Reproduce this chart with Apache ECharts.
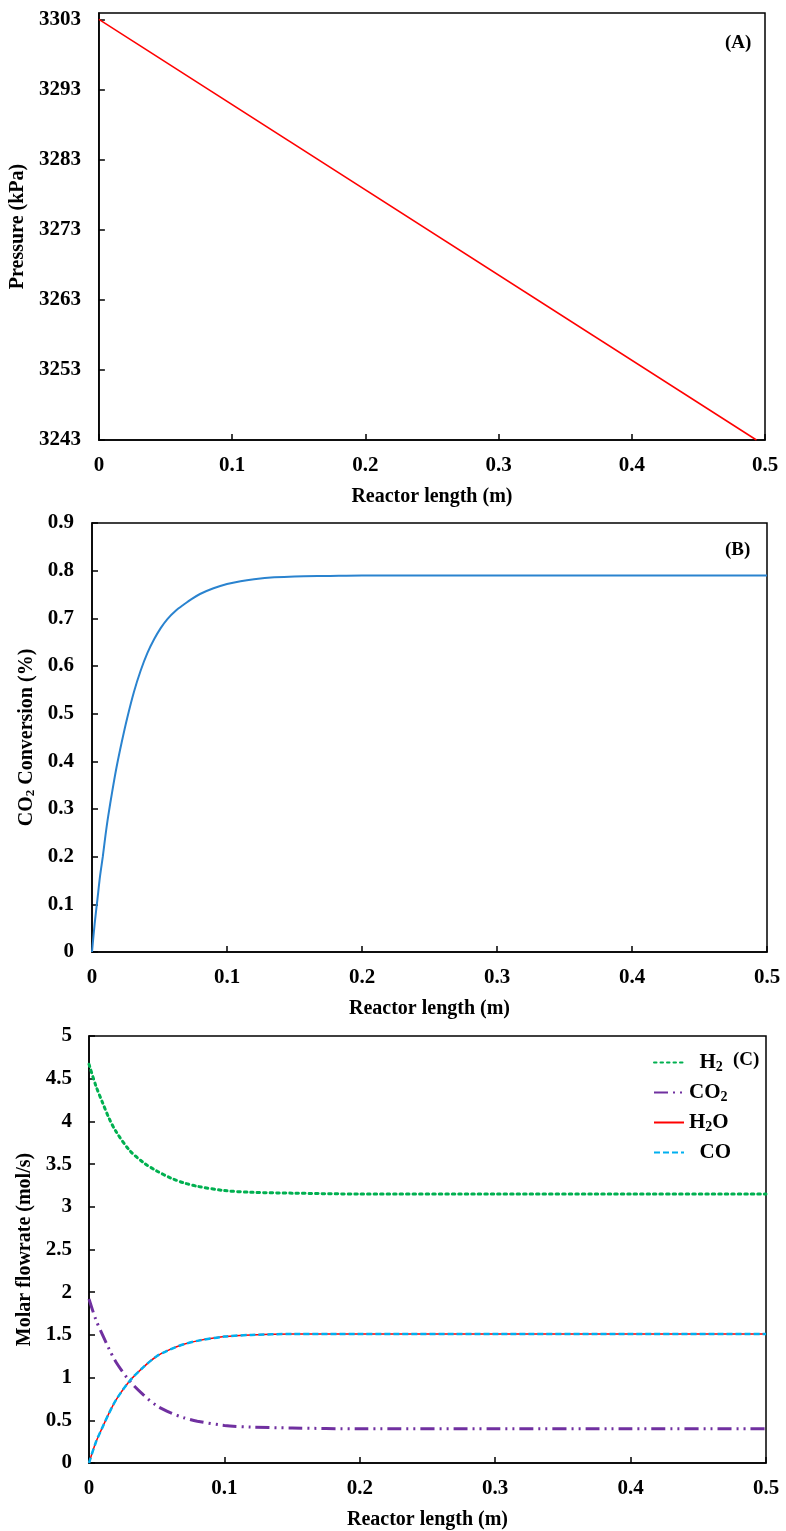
<!DOCTYPE html>
<html>
<head>
<meta charset="utf-8">
<script src="https://cdn.jsdelivr.net/npm/echarts@6/dist/echarts.min.js"></script>
<style>
  html, body { margin: 0; padding: 0; background: #fff; }
  #main { width: 786px; height: 1531px; }
</style>
</head>
<body>
<div id="main"></div>
<script>
var dom = document.getElementById("main");
var myChart = echarts.init(dom);

// (A) pressure along the reactor
var lengthA = [0, 0.4936];
var pressure = [3303, 3243];

// (B) CO2 conversion
var lengthB = [0, 0.002, 0.004, 0.006, 0.008, 0.01, 0.012, 0.015, 0.018, 0.022, 0.026, 0.031, 0.036, 0.041, 0.046, 0.051, 0.056, 0.062, 0.068, 0.074, 0.08, 0.09, 0.1, 0.11, 0.12, 0.135, 0.15, 0.175, 0.2, 0.3, 0.4, 0.5];
var conversion = [0, 0.06, 0.11, 0.16, 0.2, 0.245, 0.285, 0.337, 0.385, 0.44, 0.49, 0.545, 0.59, 0.627, 0.656, 0.68, 0.699, 0.716, 0.729, 0.741, 0.751, 0.763, 0.772, 0.778, 0.782, 0.786, 0.788, 0.789, 0.79, 0.79, 0.79, 0.79];

// (C) molar flowrates
var lengthC = [0, 0.005, 0.01, 0.015, 0.02, 0.03, 0.04, 0.05, 0.06, 0.07, 0.08, 0.1, 0.12, 0.15, 0.2, 0.3, 0.4, 0.5];
var h2  = [4.67, 4.42, 4.22, 4.03, 3.88, 3.66, 3.52, 3.42, 3.34, 3.28, 3.24, 3.19, 3.17, 3.16, 3.15, 3.15, 3.15, 3.15];
var co2 = [1.92, 1.68, 1.5, 1.33, 1.18, 0.96, 0.8, 0.67, 0.59, 0.53, 0.49, 0.44, 0.42, 0.41, 0.40, 0.40, 0.40, 0.40];
var h2o = [0, 0.24, 0.42, 0.59, 0.74, 0.96, 1.12, 1.25, 1.33, 1.39, 1.43, 1.48, 1.5, 1.51, 1.51, 1.51, 1.51, 1.51];
var co  = [0, 0.24, 0.42, 0.59, 0.74, 0.96, 1.12, 1.25, 1.33, 1.39, 1.43, 1.48, 1.5, 1.51, 1.51, 1.51, 1.51, 1.51];

function pairs(xs, ys) {
  return xs.map(function (x, i) { return [x, ys[i]]; });
}

var FONT = '"Liberation Serif", "Times New Roman", serif';
var subRich = {
  n: { fontFamily: FONT, fontWeight: 'bold', fontSize: 21, color: '#000' },
  s: { fontFamily: FONT, fontWeight: 'bold', fontSize: 14, color: '#000', padding: [9, 0, 0, 0] }
};

function xAxisFor(gi) {
  return {
    gridIndex: gi,
    type: 'value',
    min: 0, max: 0.5, interval: 0.1,
    name: 'Reactor length (m)',
    nameLocation: 'middle',
    nameGap: 47,
    nameTextStyle: { fontFamily: FONT, fontWeight: 'bold', fontSize: 20, color: '#000' },
    axisLine: { lineStyle: { color: '#000', width: 1.5 } },
    axisTick: { inside: true, length: 6, lineStyle: { color: '#000', width: 1.5 } },
    axisLabel: { margin: 15, fontFamily: FONT, fontWeight: 'bold', fontSize: 21, color: '#000' },
    splitLine: { show: false }
  };
}

function yAxisFor(gi, min, max, interval, name, gap, margin) {
  return {
    gridIndex: gi,
    type: 'value',
    min: min, max: max, interval: interval,
    name: name,
    nameLocation: 'middle',
    nameGap: gap,
    nameRotate: 90,
    nameTextStyle: { fontFamily: FONT, fontWeight: 'bold', fontSize: 20, color: '#000', rich: {
      n: { fontFamily: FONT, fontWeight: 'bold', fontSize: 20, color: '#000' },
      s: { fontFamily: FONT, fontWeight: 'bold', fontSize: 13, color: '#000', padding: [8, 0, 0, 0] }
    } },
    axisLine: { show: true, lineStyle: { color: '#000', width: 1.5 } },
    axisTick: { show: true, inside: true, length: 6, lineStyle: { color: '#000', width: 1.5 } },
    axisLabel: {
      margin: margin, showMaxLabel: gi !== 0,
      formatter: function (v) { return String(v); },
      fontFamily: FONT, fontWeight: 'bold', fontSize: 21, color: '#000'
    },
    splitLine: { show: false }
  };
}

var labelStyle = { fontFamily: FONT, fontWeight: 'bold', fontSize: 19, fill: '#000' };

option = {
  animation: false,
  backgroundColor: '#fff',
  grid: [
    { left: 97, top: 13, right: 21, height: 427, show: true, borderColor: '#000', borderWidth: 1.5 },
    { left: 92, top: 523, right: 19, height: 429, show: true, borderColor: '#000', borderWidth: 1.5 },
    { left: 89, top: 1036, right: 20, height: 427, show: true, borderColor: '#000', borderWidth: 1.5 }
  ],
  xAxis: [xAxisFor(0), xAxisFor(1), xAxisFor(2)],
  yAxis: [
    yAxisFor(0, 3243, 3303.9, 10, 'Pressure (kPa)', 67, 18),
    yAxisFor(1, 0, 0.9, 0.1, '{n|CO}{s|2}{n| Conversion (%)}', 46, 18),
    yAxisFor(2, 0, 5, 0.5, 'Molar flowrate (mol/s)', 49, 17)
  ],
  legend: {
    orient: 'vertical',
    left: 648,
    top: 1047,
    itemWidth: 30,
    itemHeight: 14,
    itemGap: 8,
    itemStyle: { opacity: 0 },
    data: ['H2', 'CO2', 'H2O', 'CO'],
    formatter: function (name) {
      if (name === 'H2') return '  {n|H}{s|2}';
      if (name === 'CO2') return '{n|CO}{s|2}';
      if (name === 'H2O') return '{n|H}{s|2}{n|O}';
      return '  {n|CO}';
    },
    textStyle: { fontFamily: FONT, fontWeight: 'bold', fontSize: 21, color: '#000', rich: subRich }
  },
  graphic: [
    { type: 'text', left: 725, top: 34, style: Object.assign({ text: '(A)' }, labelStyle) },
    { type: 'text', left: 725, top: 541, style: Object.assign({ text: '(B)' }, labelStyle) },
    { type: 'text', left: 733, top: 1051, style: Object.assign({ text: '(C)' }, labelStyle) }
  ],
  series: [
    {
      name: 'Pressure', type: 'line', xAxisIndex: 0, yAxisIndex: 0,
      data: pairs(lengthA, pressure), symbol: 'none',
      lineStyle: { color: '#ff0000', width: 1.5 }
    },
    {
      name: 'Conversion', type: 'line', xAxisIndex: 1, yAxisIndex: 1,
      data: pairs(lengthB, conversion), symbol: 'none', smooth: 0.3,
      lineStyle: { color: '#2a83cf', width: 2 }
    },
    {
      name: 'H2', type: 'line', xAxisIndex: 2, yAxisIndex: 2,
      data: pairs(lengthC, h2), symbol: 'none', smooth: 0.3,
      itemStyle: { color: '#00b050' },
      lineStyle: { color: '#00b050', width: 3, type: [2.5, 4], cap: 'round' }
    },
    {
      name: 'CO2', type: 'line', xAxisIndex: 2, yAxisIndex: 2,
      data: pairs(lengthC, co2), symbol: 'none', smooth: 0.3,
      itemStyle: { color: '#7030a0' },
      lineStyle: { color: '#7030a0', width: 3, type: [14, 5, 2, 5, 2, 5] }
    },
    {
      name: 'H2O', type: 'line', xAxisIndex: 2, yAxisIndex: 2,
      data: pairs(lengthC, h2o), symbol: 'none', smooth: 0.3,
      itemStyle: { color: '#ff0000' },
      lineStyle: { color: '#ff0000', width: 1.5 }
    },
    {
      name: 'CO', type: 'line', xAxisIndex: 2, yAxisIndex: 2,
      data: pairs(lengthC, co), symbol: 'none', smooth: 0.3,
      itemStyle: { color: '#00b0f0' },
      lineStyle: { color: '#00b0f0', width: 2.5, type: [6, 3] }
    }
  ]
};
if (option && typeof option === "object") {
    myChart.setOption(option, true);
}
</script>
</body>
</html>
